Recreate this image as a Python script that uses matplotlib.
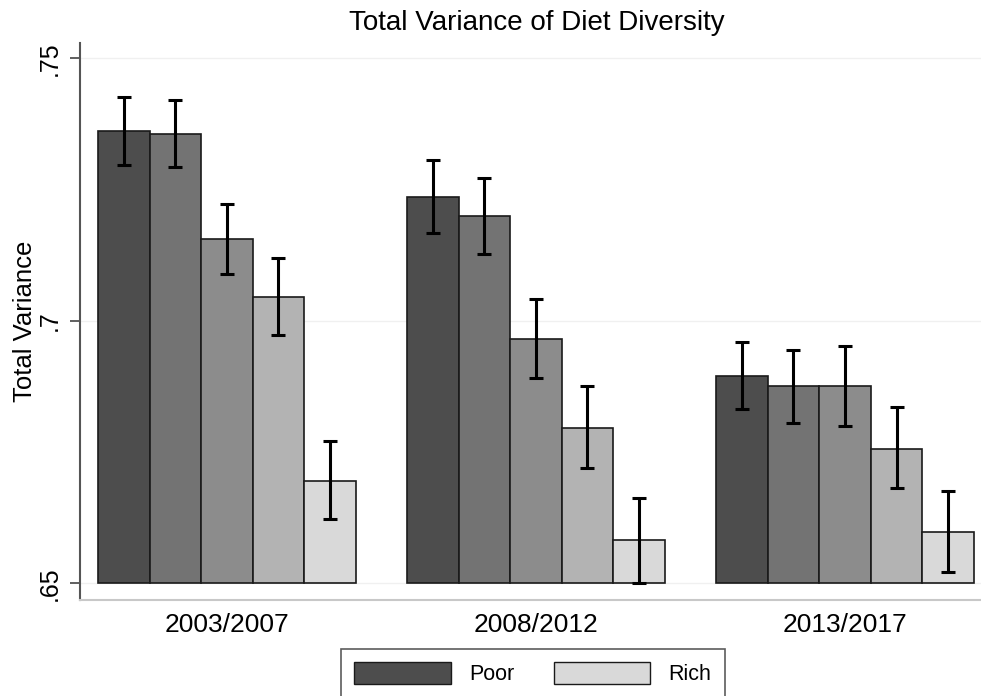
import numpy as np
import matplotlib.pyplot as plt
from matplotlib.patches import Patch

plt.rcParams['font.family'] = ['Liberation Sans', 'DejaVu Sans']

# 各时期 5 个收入组的总方差及置信区间
periods = ['2003/2007', '2008/2012', '2013/2017']
variance = [
    [0.7361, 0.7356, 0.7156, 0.7046, 0.6694],
    [0.7236, 0.7200, 0.6966, 0.6795, 0.6582],
    [0.6894, 0.6875, 0.6875, 0.6755, 0.6597],
]
ci_low = [
    [0.7297, 0.7293, 0.7089, 0.6973, 0.6622],
    [0.7167, 0.7127, 0.6890, 0.6719, 0.6500],
    [0.6831, 0.6806, 0.6800, 0.6681, 0.6521],
]
ci_high = [
    [0.7426, 0.7420, 0.7222, 0.7120, 0.6770],
    [0.7306, 0.7272, 0.7042, 0.6875, 0.6663],
    [0.6960, 0.6945, 0.6951, 0.6835, 0.6675],
]
colors = ['#4d4d4d', '#737373', '#8c8c8c', '#b3b3b3', '#d9d9d9']
base = 0.65

fig = plt.figure(figsize=(9.81, 6.96), dpi=100)
ax = fig.add_axes([80 / 981, 96 / 696, 901 / 981, 557 / 696])

for g in range(len(periods)):
    for i in range(5):
        x = g * 6 + i
        v = variance[g][i]
        ax.bar(x, v - base, bottom=base, width=1.0, color=colors[i],
               edgecolor='#1a1a1a', linewidth=1.2, zorder=2)
        ax.errorbar(x, v, yerr=[[v - ci_low[g][i]], [ci_high[g][i] - v]],
                    fmt='none', ecolor='black', elinewidth=2.2, capsize=4.7,
                    capthick=2.2, zorder=3)

ax.set_xlim(-0.85, 16.64)
ax.set_ylim(0.6468, 0.7529)
ax.set_xticks([g * 6 + 2 for g in range(len(periods))])
ax.set_xticklabels(periods, fontsize=19)
ax.tick_params(axis='x', length=0, pad=9)
ax.set_yticks([0.65, 0.7, 0.75])
ax.set_yticklabels(['.65', '.7', '.75'], rotation=90, va='center', fontsize=18)
ax.tick_params(axis='y', length=7, width=1.2, color='#444444', pad=6)
ax.yaxis.grid(True, color='#f0f0f0', linewidth=1)
ax.set_axisbelow(True)

for s in ['top', 'right']:
    ax.spines[s].set_visible(False)
ax.spines['left'].set_color('#555555')
ax.spines['left'].set_linewidth(1.5)
ax.spines['bottom'].set_color('#c8c8c8')
ax.spines['bottom'].set_linewidth(1.5)

ax.set_ylabel('Total Variance', fontsize=18.5, labelpad=1)
fig.text(537 / 981, 1 - 23 / 696, 'Total Variance of Diet Diversity',
         ha='center', va='center', fontsize=20)

handles = [Patch(facecolor=colors[0], edgecolor='#1a1a1a', label='Poor'),
           Patch(facecolor=colors[4], edgecolor='#1a1a1a', label='Rich')]
leg = fig.legend(handles=handles, loc='upper center', ncol=2,
                 bbox_to_anchor=(533 / 981, 1 - 649 / 696), fontsize=15.5,
                 handlelength=4.5, handleheight=1.15, handletextpad=0.85,
                 columnspacing=1.8, fancybox=False, frameon=True,
                 borderpad=0.62, borderaxespad=0)
leg.get_frame().set_edgecolor('#333333')
leg.get_frame().set_linewidth(1.2)

fig.savefig('out.png', dpi=100)
